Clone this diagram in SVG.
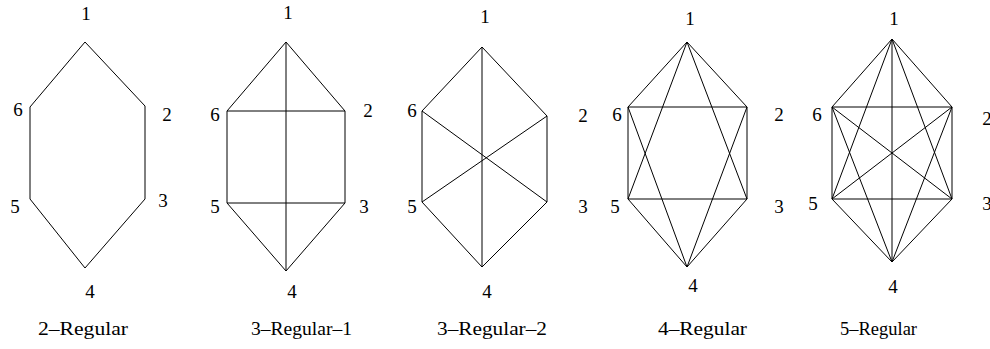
<svg xmlns="http://www.w3.org/2000/svg" width="990" height="349" viewBox="0 0 990 349">
<style>
.e{stroke:#000;stroke-width:1;fill:none}
.n{font-family:"Liberation Serif","Times New Roman",serif;font-size:19px;fill:#000;text-anchor:middle}
.t{font-family:"Liberation Serif","Times New Roman",serif;font-size:19px;fill:#000}
</style>
<rect width="990" height="349" fill="#fff"/>
<g id="connectors">
<g id="g1-edges">
<polygon class="e" points="85,42 145,106 145,199 85,268 30,199 30,107"/>
</g>
<g id="g2-edges">
<polygon class="e" points="286,42 345,111 345,203 286,271 227,203 227,111"/>
<line class="e" x1="286" y1="42" x2="286" y2="271"/>
<line class="e" x1="227" y1="111" x2="345" y2="111"/>
<line class="e" x1="227" y1="203" x2="345" y2="203"/>
</g>
<g id="g3-edges">
<polygon class="e" points="482,47 547,116 547,202 482,267 422,202 422,111"/>
<line class="e" x1="482" y1="47" x2="482" y2="267"/>
<line class="e" x1="422" y1="111" x2="547" y2="202"/>
<line class="e" x1="422" y1="202" x2="547" y2="116"/>
</g>
<g id="g4-edges">
<polygon class="e" points="687,42 747,107 747,199 687,267 628,199 628,107"/>
<line class="e" x1="628" y1="107" x2="747" y2="107"/>
<line class="e" x1="628" y1="199" x2="747" y2="199"/>
<line class="e" x1="687" y1="42" x2="628" y2="199"/>
<line class="e" x1="687" y1="42" x2="747" y2="199"/>
<line class="e" x1="687" y1="267" x2="628" y2="107"/>
<line class="e" x1="687" y1="267" x2="747" y2="107"/>
</g>
<g id="g5-edges">
<polygon class="e" points="892,39 952,107 952,199 892,262 832,199 832,107"/>
<line class="e" x1="892" y1="39" x2="892" y2="262"/>
<line class="e" x1="892" y1="39" x2="832" y2="199"/>
<line class="e" x1="892" y1="39" x2="952" y2="199"/>
<line class="e" x1="892" y1="262" x2="832" y2="107"/>
<line class="e" x1="892" y1="262" x2="952" y2="107"/>
<line class="e" x1="832" y1="107" x2="952" y2="107"/>
<line class="e" x1="832" y1="199" x2="952" y2="199"/>
<line class="e" x1="832" y1="107" x2="952" y2="199"/>
<line class="e" x1="832" y1="199" x2="952" y2="107"/>
</g>
</g>
<g id="graph1">
<g id="g1-n1"><text class="n" x="86" y="20">1</text></g>
<g id="g1-n2"><text class="n" x="167" y="121">2</text></g>
<g id="g1-n3"><text class="n" x="163" y="207">3</text></g>
<g id="g1-n4"><text class="n" x="90" y="298">4</text></g>
<g id="g1-n5"><text class="n" x="15" y="213">5</text></g>
<g id="g1-n6"><text class="n" x="18" y="116">6</text></g>
<text id="g1-title" class="t" x="38" y="335" textLength="90" lengthAdjust="spacingAndGlyphs">2–Regular</text>
</g>
<g id="graph2">
<g id="g2-n1"><text class="n" x="288" y="19">1</text></g>
<g id="g2-n2"><text class="n" x="368" y="117">2</text></g>
<g id="g2-n3"><text class="n" x="364" y="213">3</text></g>
<g id="g2-n4"><text class="n" x="292" y="298">4</text></g>
<g id="g2-n5"><text class="n" x="215" y="213">5</text></g>
<g id="g2-n6"><text class="n" x="215" y="121">6</text></g>
<text id="g2-title" class="t" x="251" y="335" textLength="101" lengthAdjust="spacingAndGlyphs">3–Regular–1</text>
</g>
<g id="graph3">
<g id="g3-n1"><text class="n" x="485" y="23">1</text></g>
<g id="g3-n2"><text class="n" x="583" y="122">2</text></g>
<g id="g3-n3"><text class="n" x="583" y="213">3</text></g>
<g id="g3-n4"><text class="n" x="487" y="298">4</text></g>
<g id="g3-n5"><text class="n" x="412" y="213">5</text></g>
<g id="g3-n6"><text class="n" x="412" y="117">6</text></g>
<text id="g3-title" class="t" x="437" y="335" textLength="110" lengthAdjust="spacingAndGlyphs">3–Regular–2</text>
</g>
<g id="graph4">
<g id="g4-n1"><text class="n" x="690" y="25">1</text></g>
<g id="g4-n2"><text class="n" x="779" y="121">2</text></g>
<g id="g4-n3"><text class="n" x="779" y="213">3</text></g>
<g id="g4-n4"><text class="n" x="693" y="292">4</text></g>
<g id="g4-n5"><text class="n" x="615" y="213">5</text></g>
<g id="g4-n6"><text class="n" x="617" y="121">6</text></g>
<text id="g4-title" class="t" x="658" y="335" textLength="89" lengthAdjust="spacingAndGlyphs">4–Regular</text>
</g>
<g id="graph5">
<g id="g5-n1"><text class="n" x="894" y="25">1</text></g>
<g id="g5-n2"><text class="n" x="987" y="125">2</text></g>
<g id="g5-n3"><text class="n" x="987" y="210">3</text></g>
<g id="g5-n4"><text class="n" x="893" y="293">4</text></g>
<g id="g5-n5"><text class="n" x="813" y="210">5</text></g>
<g id="g5-n6"><text class="n" x="817" y="121">6</text></g>
<text id="g5-title" class="t" x="840" y="335" textLength="77" lengthAdjust="spacingAndGlyphs">5–Regular</text>
</g>
</svg>
